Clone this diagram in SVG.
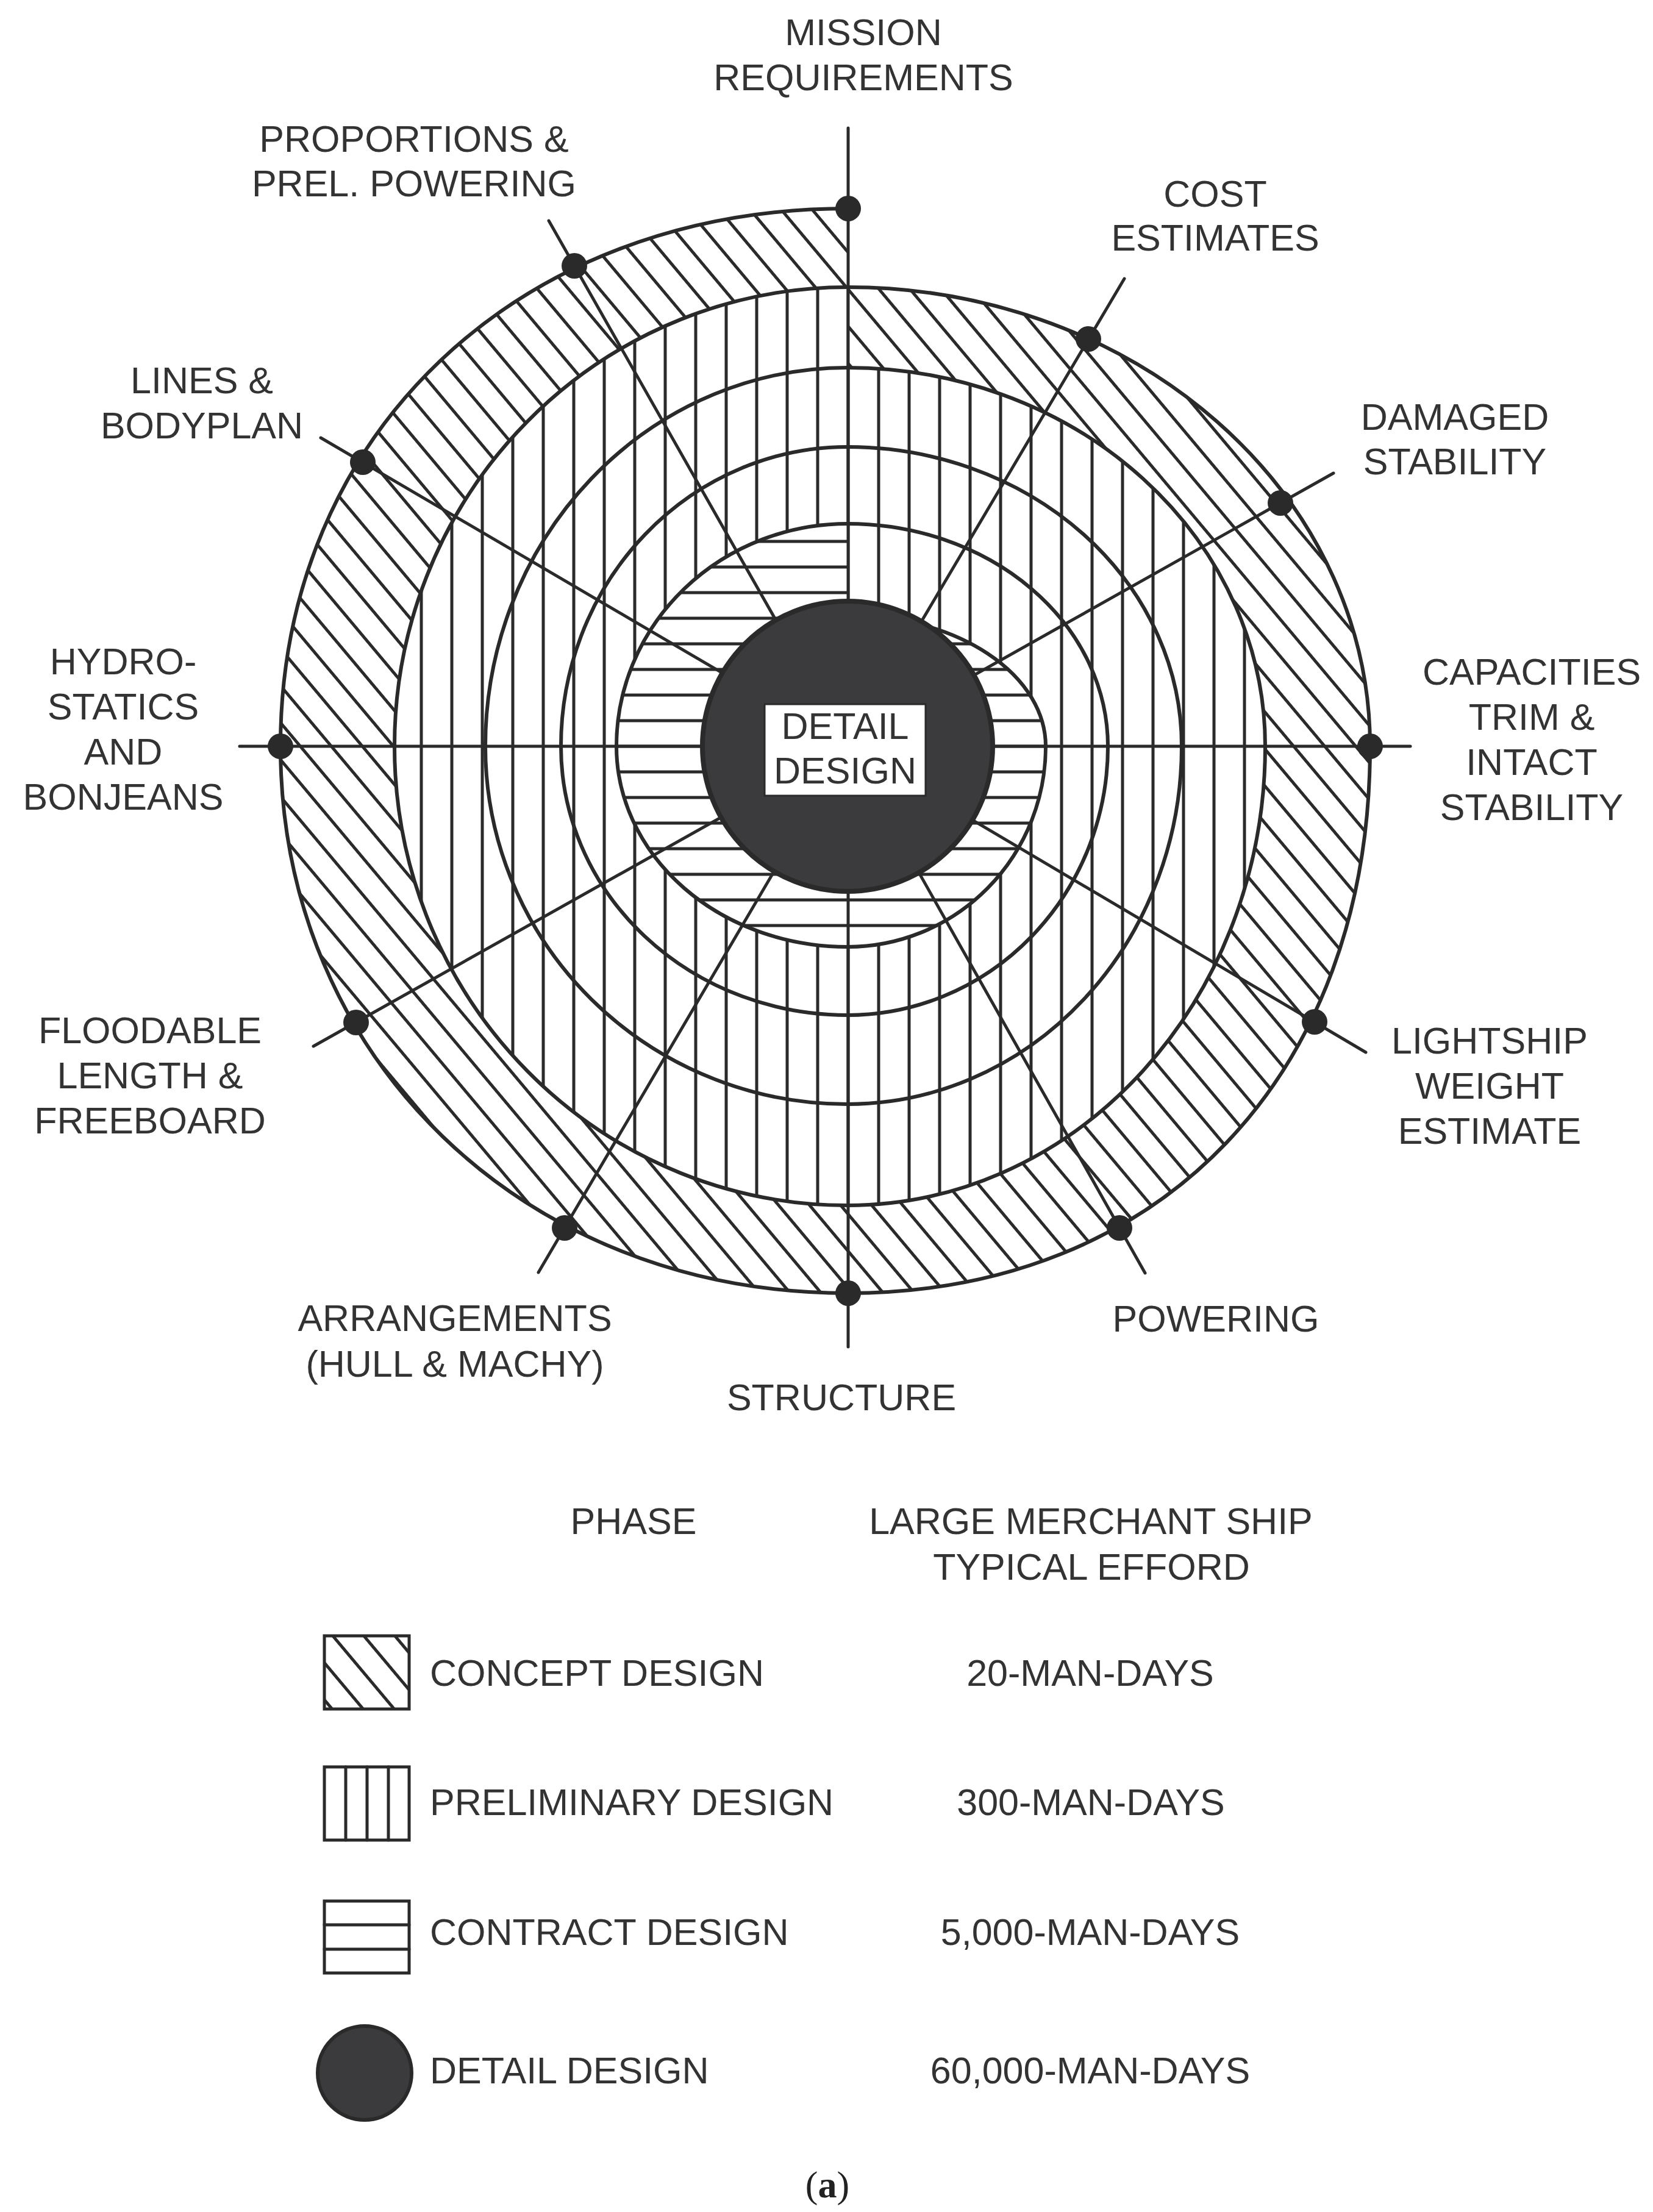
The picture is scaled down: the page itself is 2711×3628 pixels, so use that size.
<svg xmlns="http://www.w3.org/2000/svg" width="2711" height="3628" viewBox="0 0 2711 3628">
<style>
.t{font-family:"Liberation Sans",Arial,sans-serif;font-size:61px;fill:#333;}
.m{text-anchor:middle;}
.ln{stroke:#2a2a2a;stroke-width:5;fill:none;stroke-linecap:round;}
.sp{stroke:#2a2a2a;stroke-width:6;fill:none;stroke-linejoin:round;}
.dot{fill:#2a2a2a;}
.box{fill:#fff;stroke:#2a2a2a;stroke-width:5;}
</style>
<defs>
<pattern id="diag" patternUnits="userSpaceOnUse" width="39" height="39" patternTransform="rotate(-40)"><line x1="19.5" y1="-2" x2="19.5" y2="41" stroke="#2a2a2a" stroke-width="5"/></pattern>
<pattern id="vert" patternUnits="userSpaceOnUse" x="1366" y="0" width="50" height="50"><line x1="25" y1="-2" x2="25" y2="52" stroke="#2a2a2a" stroke-width="5"/></pattern>
<pattern id="horz" patternUnits="userSpaceOnUse" x="0" y="1203" width="50" height="42"><line x1="-2" y1="21" x2="52" y2="21" stroke="#2a2a2a" stroke-width="5"/></pattern>
</defs>
<rect x="0" y="0" width="2711" height="3628" fill="#fff"/>

<g id="spiral">
<path id="concept-band" fill="url(#diag)" d="M 1390 342 C 850.6 342 460 712.4 460 1224 C 460 1735.3 859.9 2121 1390 2121 C 1904.2 2121 2247 1762.2 2247 1224 A 857 753 0 0 0 1390 471 L 1390 603 A 685 621 0 0 1 2075 1224 A 685 753 0 0 1 1390 1977 A 743 753 0 0 1 647 1224 A 743 753 0 0 1 1390 471 Z"/>
<path id="preliminary-band" fill="url(#vert)" d="M 1390 471 A 743 753 0 0 0 647 1224 A 743 753 0 0 0 1390 1977 A 685 753 0 0 0 2075 1224 A 685 621 0 0 0 1390 603 L 1390 1009 A 325 215 0 0 1 1715 1224 A 325 329 0 0 1 1390 1553 A 379 329 0 0 1 1011 1224 A 379 365 0 0 1 1390 859 Z"/>
<path id="contract-band" fill="url(#horz)" d="M 1390 859 A 379 365 0 0 0 1011 1224 A 379 329 0 0 0 1390 1553 A 325 329 0 0 0 1715 1224 A 325 215 0 0 0 1390 1009 Z"/>
<path class="sp" d="M 1390 342 C 850.6 342 460 712.4 460 1224 C 460 1735.3 859.9 2121 1390 2121 C 1904.2 2121 2247 1762.2 2247 1224 A 857 753 0 0 0 1390 471 A 743 753 0 0 0 647 1224 A 743 753 0 0 0 1390 1977 A 685 753 0 0 0 2075 1224 A 685 621 0 0 0 1390 603 A 594 621 0 0 0 796 1224 A 594 587 0 0 0 1390 1811 A 548 587 0 0 0 1938 1224 A 548 491 0 0 0 1390 733 A 470 491 0 0 0 920 1224 A 470 441 0 0 0 1390 1665 A 427 441 0 0 0 1817 1224 A 427 365 0 0 0 1390 859 A 379 365 0 0 0 1011 1224 A 379 329 0 0 0 1390 1553 A 325 329 0 0 0 1715 1224 A 325 215 0 0 0 1390 1009"/>
</g>

<g id="connectors">
<line class="ln" x1="1391" y1="210" x2="1391" y2="2209"/>
<line class="ln" x1="393" y1="1224" x2="2313" y2="1224"/>
<line class="ln" x1="1390" y1="1224" x2="900" y2="362"/>
<line class="ln" x1="1390" y1="1224" x2="1878" y2="2088"/>
<line class="ln" x1="1390" y1="1224" x2="526" y2="718"/>
<line class="ln" x1="1390" y1="1224" x2="2240" y2="1726"/>
<line class="ln" x1="1390" y1="1224" x2="514" y2="1716"/>
<line class="ln" x1="1390" y1="1224" x2="2187" y2="776"/>
<line class="ln" x1="1390" y1="1224" x2="883" y2="2087"/>
<line class="ln" x1="1390" y1="1224" x2="1844" y2="457"/>
</g>

<g id="detail-design">
<circle cx="1390" cy="1224" r="238" fill="#3b3b3d" stroke="#2a2a2a" stroke-width="8"/>
<rect x="1254" y="1155" width="264" height="150" fill="#fff" stroke="#2a2a2a" stroke-width="3"/>
<text class="t m" x="1386" y="1212">DETAIL</text>
<text class="t m" x="1386" y="1285">DESIGN</text>
</g>

<g id="mission-requirements">
<circle class="dot" cx="1391" cy="342" r="21"/>
<text class="t m" x="1416" y="74">MISSION</text>
<text class="t m" x="1416" y="148">REQUIREMENTS</text>
</g>
<g id="cost-estimates">
<circle class="dot" cx="1785" cy="556" r="21"/>
<text class="t m" x="1993" y="339">COST</text>
<text class="t m" x="1993" y="411">ESTIMATES</text>
</g>
<g id="damaged-stability">
<circle class="dot" cx="2100" cy="825" r="21"/>
<text class="t m" x="2386" y="705">DAMAGED</text>
<text class="t m" x="2386" y="778">STABILITY</text>
</g>
<g id="capacities">
<circle class="dot" cx="2247" cy="1224" r="21"/>
<text class="t m" x="2512" y="1123">CAPACITIES</text>
<text class="t m" x="2512" y="1197">TRIM &amp;</text>
<text class="t m" x="2512" y="1271">INTACT</text>
<text class="t m" x="2512" y="1345">STABILITY</text>
</g>
<g id="lightship">
<circle class="dot" cx="2156" cy="1676" r="21"/>
<text class="t m" x="2443" y="1728">LIGHTSHIP</text>
<text class="t m" x="2443" y="1802">WEIGHT</text>
<text class="t m" x="2443" y="1876">ESTIMATE</text>
</g>
<g id="powering">
<circle class="dot" cx="1836" cy="2014" r="21"/>
<text class="t m" x="1994" y="2184">POWERING</text>
</g>
<g id="structure">
<circle class="dot" cx="1391" cy="2121" r="21"/>
<text class="t m" x="1380" y="2313">STRUCTURE</text>
</g>
<g id="arrangements">
<circle class="dot" cx="926" cy="2014" r="21"/>
<text class="t m" x="746" y="2183">ARRANGEMENTS</text>
<text class="t m" x="746" y="2258">(HULL &amp; MACHY)</text>
</g>
<g id="floodable-length">
<circle class="dot" cx="584" cy="1677" r="21"/>
<text class="t m" x="246" y="1711">FLOODABLE</text>
<text class="t m" x="246" y="1785">LENGTH &amp;</text>
<text class="t m" x="246" y="1859">FREEBOARD</text>
</g>
<g id="hydrostatics">
<circle class="dot" cx="460" cy="1224" r="21"/>
<text class="t m" x="202" y="1106">HYDRO-</text>
<text class="t m" x="202" y="1180">STATICS</text>
<text class="t m" x="202" y="1254">AND</text>
<text class="t m" x="202" y="1328">BONJEANS</text>
</g>
<g id="lines-bodyplan">
<circle class="dot" cx="595" cy="758" r="21"/>
<text class="t m" x="331" y="645">LINES &amp;</text>
<text class="t m" x="331" y="719">BODYPLAN</text>
</g>
<g id="proportions">
<circle class="dot" cx="942" cy="436" r="21"/>
<text class="t m" x="679" y="249">PROPORTIONS &amp;</text>
<text class="t m" x="679" y="322">PREL. POWERING</text>
</g>

<g id="legend">
<text class="t m" x="1039" y="2516">PHASE</text>
<text class="t m" x="1789" y="2516">LARGE MERCHANT SHIP</text>
<text class="t m" x="1790" y="2591">TYPICAL EFFORD</text>
<g id="legend-concept">
<rect x="532" y="2683" width="139" height="120" fill="url(#diag)" stroke="#2a2a2a" stroke-width="5"/>
<text class="t" x="705" y="2765">CONCEPT DESIGN</text>
<text class="t m" x="1788" y="2765">20-MAN-DAYS</text>
</g>
<g id="legend-preliminary">
<rect class="box" x="532" y="2898" width="139" height="120"/>
<line class="ln" x1="567" y1="2898" x2="567" y2="3018"/>
<line class="ln" x1="602" y1="2898" x2="602" y2="3018"/>
<line class="ln" x1="637" y1="2898" x2="637" y2="3018"/>
<text class="t" x="705" y="2977">PRELIMINARY DESIGN</text>
<text class="t m" x="1789" y="2977">300-MAN-DAYS</text>
</g>
<g id="legend-contract">
<rect class="box" x="532" y="3118" width="139" height="118"/>
<line class="ln" x1="532" y1="3157" x2="671" y2="3157"/>
<line class="ln" x1="532" y1="3197" x2="671" y2="3197"/>
<text class="t" x="705" y="3190">CONTRACT DESIGN</text>
<text class="t m" x="1788" y="3190">5,000-MAN-DAYS</text>
</g>
<g id="legend-detail">
<circle cx="598" cy="3400" r="77" fill="#3b3b3d" stroke="#2a2a2a" stroke-width="6"/>
<text class="t" x="705" y="3417">DETAIL DESIGN</text>
<text class="t m" x="1788" y="3417">60,000-MAN-DAYS</text>
</g>
</g>

<text x="1357" y="3604" text-anchor="middle" font-family="'Liberation Serif','Times New Roman',serif" font-size="62" fill="#222">(<tspan font-weight="bold">a</tspan>)</text>
</svg>
